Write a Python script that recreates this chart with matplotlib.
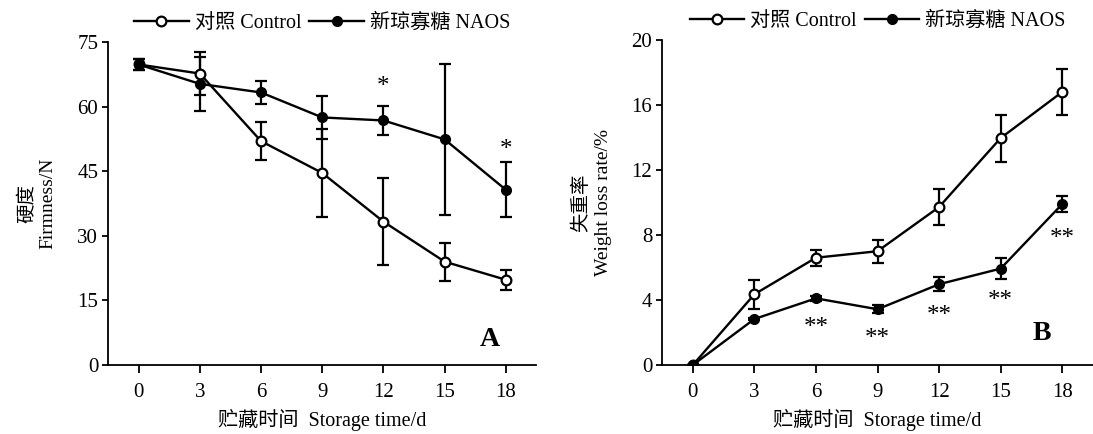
import matplotlib.pyplot as plt

plt.rcParams['font.family'] = ['Liberation Serif', 'Noto Sans CJK SC']
plt.rcParams['font.size'] = 15

days = [0, 3, 6, 9, 12, 15, 18]

# A: firmness (N)
firm_ctrl = [69.8, 67.7, 52.0, 44.6, 33.3, 24.0, 19.8]
firm_ctrl_err = [1.3, 4.9, 4.4, 10.2, 10.1, 4.4, 2.3]
firm_naos = [69.8, 65.3, 63.3, 57.5, 56.8, 52.4, 40.7]
firm_naos_err = [1.3, 6.2, 2.6, 5.0, 3.3, 17.5, 6.4]
firm_star_x = [12, 18]
firm_star_y = [64.5, 50.0]

# B: weight loss rate (%)
wl_ctrl = [0, 4.35, 6.6, 7.0, 9.72, 13.96, 16.8]
wl_ctrl_err = [0, 0.88, 0.5, 0.7, 1.1, 1.45, 1.4]
wl_naos = [0, 2.83, 4.1, 3.43, 4.97, 5.93, 9.9]
wl_naos_err = [0, 0.05, 0.15, 0.25, 0.43, 0.63, 0.5]
wl_star_x = [6, 9, 12, 15, 18]
wl_star_y = [2.3, 1.6, 3.0, 3.95, 7.75]

fig = plt.figure(figsize=(10.93, 4.34), dpi=100)
axA = fig.add_axes([0.0988, 0.159, 0.392, 0.744])
axB = fig.add_axes([0.6057, 0.159, 0.3943, 0.749])


def draw(ax, ctrl, ctrl_err, naos, naos_err):
    ax.errorbar(days, ctrl, yerr=ctrl_err, fmt='none', ecolor='black',
                elinewidth=1.6, capsize=4.5, capthick=1.6, zorder=2)
    ax.errorbar(days, naos, yerr=naos_err, fmt='none', ecolor='black',
                elinewidth=1.6, capsize=4.5, capthick=1.6, zorder=2)
    ax.plot(days, ctrl, '-o', color='black', lw=1.7, ms=7, mfc='white',
            mec='black', mew=1.6, label='对照 Control', zorder=3)
    ax.plot(days, naos, '-o', color='black', lw=1.7, ms=7, mfc='black',
            mec='black', label='新琼寡糖 NAOS', zorder=3)
    for s in ['top', 'right']:
        ax.spines[s].set_visible(False)
    for s in ['left', 'bottom']:
        ax.spines[s].set_linewidth(1.3)
    ax.set_xlim(-1.5, 19.5)
    ax.set_xticks(days)
    ax.tick_params(axis='x', direction='out', length=6, width=1.3,
                   labelsize=15, pad=7)
    ax.tick_params(axis='y', direction='out', length=4, width=1.3,
                   labelsize=15, pad=3)
    ax.set_xlabel('贮藏时间  Storage time/d', fontsize=14.5, labelpad=5)
    ax.legend(loc='lower center', bbox_to_anchor=(0.5, 1.0), ncol=2,
              frameon=False, handlelength=2.7, handletextpad=0.3,
              columnspacing=0.4, fontsize=14.5, borderaxespad=0.05)


draw(axA, firm_ctrl, firm_ctrl_err, firm_naos, firm_naos_err)
axA.set_ylim(0, 75)
axA.set_yticks([0, 15, 30, 45, 60, 75])
axA.set_ylabel('硬度\nFirmness/N', fontsize=14, labelpad=15, linespacing=1.2)
for x, y in zip(firm_star_x, firm_star_y):
    axA.text(x, y, '*', ha='center', va='center', fontsize=18)
axA.text(17.2, 6, 'A', ha='center', va='center', fontsize=20, fontweight='bold')

draw(axB, wl_ctrl, wl_ctrl_err, wl_naos, wl_naos_err)
axB.set_ylim(0, 20)
axB.set_yticks([0, 4, 8, 12, 16, 20])
axB.set_ylabel('失重率\nWeight loss rate/%', fontsize=14, labelpad=14, linespacing=1.4)
for x, y in zip(wl_star_x, wl_star_y):
    axB.text(x, y, '**', ha='center', va='center', fontsize=18)
axB.text(17.0, 1.95, 'B', ha='center', va='center', fontsize=20, fontweight='bold')

fig.savefig('out.png', dpi=100)
